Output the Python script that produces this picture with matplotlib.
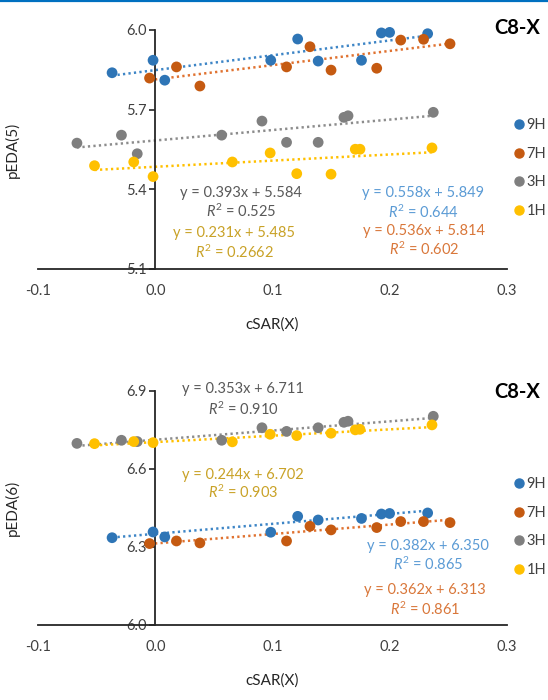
import matplotlib
matplotlib.use("Agg")
import matplotlib.pyplot as plt
from matplotlib.lines import Line2D

plt.rcParams['font.family'] = ['Lato', 'DejaVu Sans']
plt.rcParams['mathtext.fontset'] = 'custom'
plt.rcParams['mathtext.rm'] = 'Lato'
plt.rcParams['mathtext.it'] = 'Lato:italic'

# ---------------- data ----------------
series = ["9H", "7H", "3H", "1H"]

x_9H = [-0.037, -0.002, 0.008, 0.0985, 0.1215, 0.139, 0.176, 0.193, 0.200, 0.2325]
x_7H = [-0.005, 0.018, 0.038, 0.112, 0.132, 0.150, 0.189, 0.2095, 0.229, 0.2516]
x_3H = [-0.067, -0.029, -0.0155, 0.0566, 0.091, 0.112, 0.139, 0.161, 0.1645, 0.2373]
x_1H = [-0.052, -0.0185, -0.002, 0.0657, 0.098, 0.1207, 0.150, 0.1707, 0.1747, 0.2362]

pEDA5_9H = [5.839, 5.886, 5.811, 5.886, 5.966, 5.883, 5.886, 5.989, 5.991, 5.986]
pEDA5_7H = [5.819, 5.861, 5.789, 5.861, 5.937, 5.849, 5.856, 5.962, 5.965, 5.948]
pEDA5_3H = [5.574, 5.604, 5.534, 5.604, 5.657, 5.577, 5.577, 5.671, 5.677, 5.690]
pEDA5_1H = [5.489, 5.503, 5.448, 5.503, 5.537, 5.459, 5.457, 5.551, 5.551, 5.556]

pEDA6_9H = [6.335, 6.357, 6.338, 6.356, 6.417, 6.403, 6.409, 6.426, 6.428, 6.430]
pEDA6_7H = [6.3125, 6.3225, 6.315, 6.3225, 6.379, 6.365, 6.374, 6.397, 6.397, 6.393]
pEDA6_3H = [6.697, 6.709, 6.704, 6.709, 6.757, 6.743, 6.757, 6.778, 6.782, 6.801]
pEDA6_1H = [6.696, 6.704, 6.700, 6.703, 6.732, 6.727, 6.736, 6.749, 6.751, 6.768]

# trendline coefficients (slope, intercept, R2 text)
fit5_slope = [0.558, 0.536, 0.393, 0.231]
fit5_icpt = [5.849, 5.814, 5.584, 5.485]
fit5_r2 = ["0.644", "0.602", "0.525", "0.2662"]
fit6_slope = [0.382, 0.362, 0.353, 0.244]
fit6_icpt = [6.350, 6.313, 6.711, 6.702]
fit6_r2 = ["0.865", "0.861", "0.910", "0.903"]

x_ticks = [-0.1, 0.0, 0.1, 0.2, 0.3]
y5_ticks = [5.1, 5.4, 5.7, 6.0]
y6_ticks = [6.0, 6.3, 6.6, 6.9]

# ---------------- styles ----------------
marker_colors = ["#2E75B6", "#C55A11", "#7F7F7F", "#FFC000"]
line_colors = ["#3D85C6", "#E07230", "#8C8C8C", "#FFC000"]
text_colors = ["#5B9BD5", "#D9773A", "#595959", "#C9A227"]

W, H = 548, 700
fig = plt.figure(figsize=(W / 100, H / 100), dpi=100)

def fx(px):
    return px / W

def fy(py):
    return 1 - py / H

# blue border line at top
fig.add_artist(Line2D([0, 1], [fy(0.8), fy(0.8)], color="#0070C0", lw=1.6, transform=fig.transFigure))

xs_all = [x_9H, x_7H, x_3H, x_1H]


def make_axes(top_px, bot_px, ys_all, slopes, icpts, ylim, yticks, ylabel):
    ax = fig.add_axes([fx(38.3), fy(bot_px), (506.7 - 38.3) / W, (bot_px - top_px) / H])
    for xs, ys, mc, lc, sl, ic in zip(xs_all, ys_all, marker_colors, line_colors, slopes, icpts):
        x0, x1 = min(xs), max(xs)
        ax.plot([x0, x1], [sl * x0 + ic, sl * x1 + ic], color=lc, lw=1.8,
                linestyle=(0, (0.9, 1.3)), zorder=2)
    for xs, ys, mc in zip(xs_all, ys_all, marker_colors):
        ax.scatter(xs, ys, s=60, color=mc, edgecolors='none', zorder=3, clip_on=False)
    ax.set_xlim(-0.1, 0.3)
    ax.set_ylim(*ylim)
    ax.spines['top'].set_visible(False)
    ax.spines['right'].set_visible(False)
    ax.spines['left'].set_position(('data', 0.0))
    for s in ['left', 'bottom']:
        ax.spines[s].set_color('#262626')
        ax.spines[s].set_linewidth(1.3)
    ax.set_xticks(x_ticks)
    ax.set_xticklabels([f"{v:.1f}" for v in x_ticks])
    ax.set_yticks(yticks)
    ax.set_yticklabels([f"{v:.1f}" for v in yticks])
    ax.tick_params(axis='x', length=0, pad=11, labelsize=10.5, labelcolor='#404040')
    ax.tick_params(axis='y', length=4, width=1.2, color='#262626', pad=2, labelsize=10.5, labelcolor='#404040')
    ax.set_xlabel("cSAR(X)", fontsize=11, color='#262626', labelpad=14)
    ax.set_ylabel(ylabel, fontsize=11, color='#262626')
    ax.yaxis.set_label_coords((20 - 38.3) / (506.7 - 38.3), 0.5)
    ax.patch.set_alpha(0)
    return ax


ys5 = [pEDA5_9H, pEDA5_7H, pEDA5_3H, pEDA5_1H]
ys6 = [pEDA6_9H, pEDA6_7H, pEDA6_3H, pEDA6_1H]

ax1 = make_axes(30, 269, ys5, fit5_slope, fit5_icpt, (5.1, 6.0), y5_ticks, "pEDA(5)")
ax2 = make_axes(390.5, 625, ys6, fit6_slope, fit6_icpt, (6.0, 6.9), y6_ticks, "pEDA(6)")


def eq(slope, icpt):
    return f"y = {slope:.3f}x + {icpt:.3f}"


# annotations: (index, x center, y eq, y r2)
ann5 = [(0, 423, 193.3, 212.3), (1, 424, 231, 249.5), (2, 241, 193.5, 211.7), (3, 234, 233.3, 252.5)]
ann6 = [(0, 428, 545.7, 564.5), (1, 425, 590.3, 609), (2, 243, 389.5, 409), (3, 243, 475, 492.7)]

for anns, slopes, icpts, r2s in [(ann5, fit5_slope, fit5_icpt, fit5_r2), (ann6, fit6_slope, fit6_icpt, fit6_r2)]:
    for i, xc, ye, yr in anns:
        fig.text(fx(xc), fy(ye), eq(slopes[i], icpts[i]), ha='center', va='center',
                 fontsize=10.5, color=text_colors[i])
        fig.text(fx(xc), fy(yr), r"$R^2$ = " + r2s[i], ha='center', va='center',
                 fontsize=10.5, color=text_colors[i])

# titles
fig.text(fx(517.5), fy(28), "C8-X", ha='center', va='center', fontsize=14.5, fontweight='bold', color='#000000')
fig.text(fx(517.5), fy(392), "C8-X", ha='center', va='center', fontsize=14.5, fontweight='bold', color='#000000')

# legends
for ax, yc in [(ax1, 168), (ax2, 527)]:
    handles = [Line2D([], [], marker='o', linestyle='none', color=c, markersize=6.5) for c in marker_colors]
    leg = fig.legend(handles, series, loc='center left', bbox_to_anchor=(fx(514), fy(yc)),
                     bbox_transform=fig.transFigure, frameon=False, fontsize=10.5,
                     handlelength=0.7, handletextpad=0.15, labelspacing=1.0,
                     borderpad=0, borderaxespad=0)
    for t in leg.get_texts():
        t.set_color('#404040')

fig.savefig("out.png", dpi=100)
